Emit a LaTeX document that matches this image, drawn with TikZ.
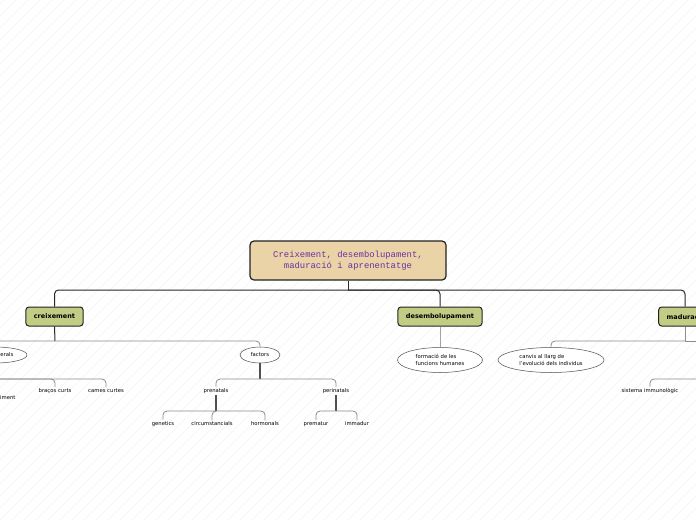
\documentclass[tikz,border=0pt]{standalone}
\usepackage{fontspec}
\setmainfont{DejaVu Sans}
\newfontfamily\rootfont{Liberation Mono}
\usetikzlibrary{shapes.geometric}
\definecolor{rootfill}{RGB}{233,211,167}
\definecolor{rootink}{RGB}{112,48,160}
\definecolor{greenfill}{RGB}{194,204,133}
\definecolor{edge}{RGB}{34,34,34}
\definecolor{linemain}{RGB}{40,40,40}
\definecolor{linesub}{RGB}{140,140,140}
\definecolor{linethick}{RGB}{80,80,80}
\definecolor{hatch}{RGB}{244,244,244}
\tikzset{
  rootbox/.style={draw=edge, line width=1.2pt, fill=rootfill, rounded corners=4pt,
    minimum width=196pt, minimum height=39pt, align=center, text=rootink,
    font=\rootfont\fontsize{8.9}{11}\selectfont},
  mainbox/.style={draw=edge, line width=1pt, fill=greenfill, rounded corners=3pt,
    minimum height=19pt, inner xsep=8pt, inner ysep=0pt,
    font=\bfseries\fontsize{6.5}{8}\selectfont},
  oval/.style={ellipse, draw=edge!80, line width=0.5pt, fill=white, inner sep=0pt,
    align=left, font=\fontsize{5.3}{6.8}\selectfont},
  leaf/.style={inner sep=1.5pt, font=\fontsize{5.3}{6.3}\selectfont},
  mainline/.style={draw=linemain, line width=1pt, rounded corners=4pt},
  subline/.style={draw=linesub, line width=0.8pt, rounded corners=4pt},
  thickline/.style={draw=linethick, line width=1.5pt},
}
\begin{document}
\begin{tikzpicture}[x=1pt,y=-1pt]
\useasboundingbox (0,0) rectangle (696,520);
\fill[white] (0,0) rectangle (696,520);
\foreach \i in {-528,-516,...,696} {
  \draw[hatch, line width=0.5pt] (\i,520) -- (\i+520,0);
}
% nodes
\node[rootbox] (root) at (348,260.5) {Creixement, desembolupament,\\maduració i aprenentatge};
\node[mainbox] (cre) at (54.5,316.5) {creixement};
\node[mainbox] (des) at (440,316.5) {desembolupament};
\node[mainbox] (mad) at (686,316.5) {maduració};

\node[oval, minimum width=64pt, minimum height=16pt, align=center] (gen) at (-5,355) {trets generals};
\node[oval, minimum width=40pt, minimum height=16pt, align=center] (fac) at (260,355) {factors};
\node[oval, minimum width=85pt, minimum height=25pt] (form) at (440,360) {formació de les\\funcions humanes};
\node[oval, minimum width=106pt, minimum height=25pt] (canv) at (551,360) {canvis al llarg de\\l'evolució dels individus};

\node[leaf, anchor=west, inner sep=0pt] (im) at (0,398) {iment};
\node[leaf] (bra) at (55,391) {braços curts};
\node[leaf] (cam) at (106,391) {cames curtes};
\node[leaf] (pre) at (216,391) {prenatals};
\node[leaf] (per) at (336,391) {perinatals};
\node[leaf] (gnt) at (163,424) {genetics};
\node[leaf] (cir) at (212,424) {circumstancials};
\node[leaf] (hor) at (265,424) {hormonals};
\node[leaf] (prm) at (316,424) {prematur};
\node[leaf] (imm) at (357,424) {immadur};
\node[leaf] (sis) at (650,391) {sistema immunològic};

% junctions
\coordinate (j0) at (348,290);
\coordinate (c1) at (55,341);
\coordinate (gj) at (-5,379);
\coordinate (fj) at (260,379);
\coordinate (pj) at (216,411);
\coordinate (qj) at (336,411);
\coordinate (m1) at (685,341);
\coordinate (mOff) at (710,341);
\coordinate (sOff) at (710,379);

% connectors
\draw[mainline] (root.south) -- (j0);
\draw[mainline] (j0) -| (cre.north);
\draw[mainline] (j0) -| ([xshift=-1pt]mad.north);
\draw[mainline] (j0) -| (des.north);

\draw[mainline] (cre.south) -- (c1);
\draw[subline] (c1) -| (gen.north);
\draw[subline] (c1) -| (fac.north);
\draw[subline] (gen.south) -- (gj);
\draw[subline] (gj) -| (bra.north);
\draw[subline] (gj) -| (cam.north);

\draw[thickline] (fac.south) -- (fj);
\draw[subline] (fj) -| (pre.north);
\draw[subline] (fj) -| (per.north);
\draw[thickline] (pre.south) -- (pj);
\draw[subline] (pj) -| (gnt.north);
\draw[subline] (pj) -| (cir.north);
\draw[subline] (pj) -| (hor.north);
\draw[thickline] (per.south) -- (qj);
\draw[subline] (qj) -| (prm.north);
\draw[subline] (qj) -| (imm.north);

\draw[subline, draw=linesub!80] (des.south) -- (form.north);

\draw[mainline, draw=linesub] ([xshift=-1pt]mad.south) -- (m1);
\draw[subline] (m1) -| (canv.north);
\draw[subline] (m1) -- (mOff);
\draw[subline] (sOff) -| (sis.north);
\end{tikzpicture}
\end{document}
